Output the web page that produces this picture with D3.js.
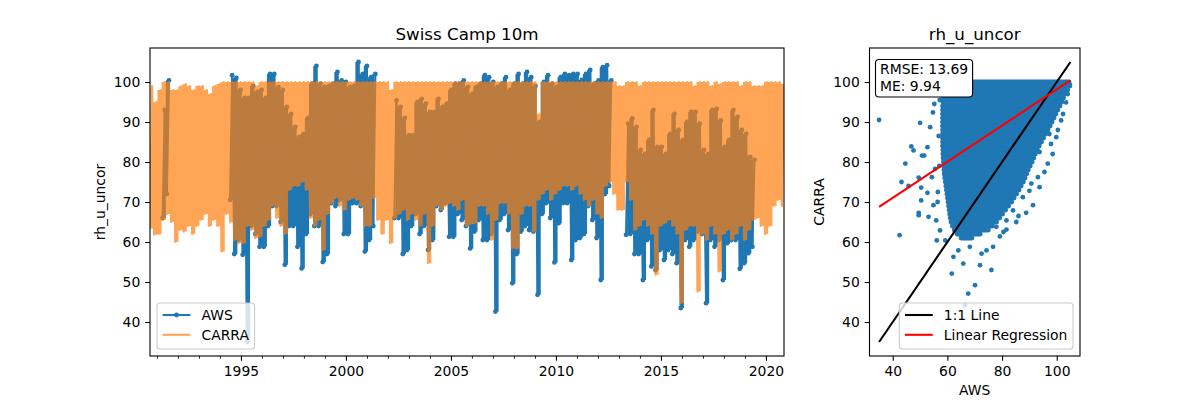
<!DOCTYPE html>
<html>
<head>
<meta charset="utf-8">
<script src="https://cdn.jsdelivr.net/npm/d3@7"></script>
<style>
  body { margin: 0; background: #fff; }
  svg { font-family: "DejaVu Sans", sans-serif; }
</style>
</head>
<body>
<script>
// time series in 0.2-year bins (low / high of each bin)
const tStart = 1990.67, tEnd = 2020.86;

const carraLow = [
  63.4, 61.8, 62, 65.5, 67, 65, 60, 63, 62.6, 64,
  62, 64, 65.5, 67, 64, 65.5, 64, 57.6, 67, 65,
  60.5, 59.7, 59.7, 64, 63, 61, 61.3, 64, 65.5, 69,
  66, 64, 62, 73, 74, 74, 75, 73, 66, 64,
  65.5, 58, 67, 69.7, 71, 69, 68, 70.5, 71, 70.5,
  69, 64, 64, 71, 65.5, 62, 65.5, 59.7, 66, 67,
  68, 65.5, 67, 65.5, 64, 67, 54.7, 64, 69, 68,
  69, 69.7, 69, 68, 70.5, 64, 64.5, 64.7, 69, 69,
  67, 60.5, 65.5, 69.7, 69.7, 67, 58.4, 58.4, 67, 69,
  69, 62.6, 70.5, 72, 73, 70.5, 72, 73, 74, 74,
  73, 74, 72, 70.5, 69, 70.5, 67, 66, 74, 75,
  72, 68, 68, 75, 70.5, 63, 64, 65.5, 64, 62,
  51.8, 64, 64.7, 65.5, 64, 62, 44.7, 63, 64, 64,
  47.6, 62, 60.5, 64, 62, 52.6, 62, 63, 60.5, 62,
  64, 60.5, 63, 65.5, 66, 64, 62, 64, 69, 70.5,
  69
];
const carraHigh = [
  99, 95, 98, 100, 100, 98, 98, 99, 99.5, 99,
  98, 99, 99, 98, 97, 99, 99.5, 100, 100, 100,
  100, 100, 100, 100, 100, 99, 100, 100, 100, 100,
  100, 100, 100, 100, 100, 100, 100, 100, 100, 100,
  100, 100, 100, 100, 100, 100, 100, 100, 100, 100,
  100, 100, 100, 100, 100, 100, 100, 98, 100, 100,
  100, 100, 100, 100, 100, 100, 100, 100, 100, 100,
  100, 100, 100, 100, 100, 100, 100, 100, 100, 100,
  100, 100, 100, 100, 100, 100, 100, 100, 100, 100,
  100, 100, 92, 100, 100, 100, 100, 100, 100, 100,
  100, 100, 100, 100, 100, 100, 100, 100, 100, 100,
  100, 99, 99, 100, 100, 100, 99, 100, 100, 100,
  100, 100, 100, 100, 100, 100, 100, 100, 100, 99,
  100, 100, 100, 99, 100, 99.5, 100, 100, 100, 100,
  99, 100, 100, 99, 99, 99, 100, 100, 100, 100,
  99.5
];
const awsLow = [
  null, null, null, 66, 72, null, null, null, null, null,
  null, null, null, null, null, null, null, null, null, 70.5,
  57, 60.5, 56.8, 35, 64, 62, 58.8, 58.8, 64, 69,
  69, 65, 54.3, 64, 64, 58.8, 53.4, 62, 67, 64,
  64, 55, 57, 69.7, 69, 70.5, 62, 62, 69.7, 69.7,
  69, 57.6, 60.5, 64, null, null, null, null, 66, 66,
  57, 58, 64, 67, 62, 64, 58, 60.5, 69, 68,
  69.7, 61.3, 61.3, 67, 65.5, 64, 58.4, 62.6, 65.5, 60.5,
  60.5, 62, 42.6, 65.5, 67, 63, 49.7, 57, 62.6, 64,
  63, 62.6, 46.8, 67, 69.7, 66, 54.9, 64.7, 69.7, 69.7,
  55.5, 60.5, 61, 62, 69, 65.5, 61, 50.5, 72, 74,
  null, null, null, 61.8, 62, 57, 57, 50.5, 60.5, 53.9,
  53, 58, 55.5, 58, 57, 54.7, 43.5, 60.5, 58.8, 60.5,
  62.6, 62, 44.7, 60.5, 58.8, 60.5, 50.5, 59.7, 60.5, 60.5,
  53.3, 54.7, 57.2, 58.8, null, null, null, null, null, null,
  null
];
const awsHigh = [
  null, null, null, 93, 100.4, null, null, null, null, null,
  null, null, null, null, null, null, null, null, null, 101.7,
  101, 98, 96, 96, 99, 97.5, 98, 96, 102, 102,
  98.7, 98, 93.8, 92, 88.8, 86.3, 87, 91, 99.6, 104,
  99.6, 98.8, 99, 99.6, 102.5, 100.4, 100, 98.8, 99, 105,
  102, 104, 101.2, 102, null, null, null, null, 95.4, 93.8,
  91, 86.7, 86.7, 95, 95.8, 94.6, 92.5, 92.5, 95.8, 93.8,
  94.6, 98, 99.6, 99.6, 100.4, 98.8, 97, 98.8, 99.6, 101.7,
  101.2, 100, 98.8, 99.6, 101.2, 98, 99.6, 102, 99.6, 102.5,
  101.2, 99, 90, 100, 101.7, 99.6, 98.8, 101.2, 102, 101.7,
  102, 102, 100.5, 102, 103, 99.6, 100.4, 103.7, 104.2, 100.4,
  null, null, null, 89.6, 90.9, 88.8, 83, 82, 85.5, 93,
  83.8, 83.8, 82, 87, 92, 88, 85.5, 90, 92.5, 92.5,
  89.6, 83, 82, 93, 93.3, 90.4, 83.8, 85.5, 93, 91.3,
  88, 87, 81.3, 80.5, null, null, null, null, null, null,
  null
];

const majorYears = [1995, 2000, 2005, 2010, 2015, 2020];
const minorYears = [1991, 1992, 1993, 1994, 1996, 1997, 1998, 1999, 2001, 2002, 2003, 2004,
  2006, 2007, 2008, 2009, 2011, 2012, 2013, 2014, 2016, 2017, 2018, 2019];
const valueTicks = [40, 50, 60, 70, 80, 90, 100];
const awsTicks = [40, 60, 80, 100];

// scatter: dense core as rows (CARRA level, AWS min..max) plus single outliers
const cloudCarra = [100, 99, 98, 97, 96, 95, 94, 93, 92, 91, 90, 89, 88, 87, 86, 85, 84, 83, 82, 81,
  80, 79, 78, 77, 76, 75, 74, 73, 72, 71, 70, 69, 68, 67, 66, 65, 64, 63, 62, 61];
const cloudAwsMin = [59, 58.8, 58.6, 58.5, 58.4, 58.3, 58.2, 58.2, 58.2, 58.2, 58.2, 58.2, 58.2, 58.2,
  58.2, 58.2, 58.2, 58.3, 58.3, 58.4, 58.5, 58.6, 58.7, 58.8, 59, 59.2, 59.4, 59.6, 59.8, 60,
  60.2, 60.4, 60.6, 60.8, 61, 61.3, 61.8, 62.5, 63.5, 65];
const cloudAwsMax = [104.5, 104.8, 104, 103, 102.5, 101.9, 101.2, 100.4, 99.7, 99, 98.3, 97.6, 96.8,
  96, 95.2, 94.4, 93.6, 92.9, 92.2, 91.6, 91, 90.3, 89.6, 89, 88.4, 87.8, 87, 86.2, 85.3, 84.4,
  83.5, 82.4, 81.3, 80.2, 79.1, 78, 76.5, 75, 72, 69];
const outAws = [35, 42.5, 43.2, 44.6, 45.8, 46.8, 47.6, 50, 49.5, 50.4, 50.4, 49.5, 49.5, 50.7, 51.5,
  52.7, 53.1, 52.7, 53.7, 54.3, 54.7, 55.2, 55.5, 54.9, 55.9, 56.4, 57.3, 56.1, 59.2, 61.6, 62.2,
  64, 65.8, 67.6, 70.1, 66.4, 68.2, 71.9, 72.5, 76.1, 76.7, 74.3, 79.2, 81.6, 85.2, 88.8, 91.3,
  93.7, 93.1, 96.7, 97.9, 99.8, 100.4, 101.6, 103.4, 104, 104.8, 90.7, 87.6, 84, 81.6, 77.9, 93.7, 97.3,
  56.8, 57, 56.5, 57.2, 90, 95.5, 98.5, 102.3, 86, 80.5];
const outCarra = [90.5, 61.7, 75, 79.6, 74, 83.9, 82.9, 89.8, 76.1, 73.6, 70.4, 67.3, 66.7, 81.6, 81.6,
  72.3, 66.3, 83.7, 88.7, 76.2, 92.4, 94.5, 78.3, 69.2, 65.4, 70, 62.9, 60.4, 60.4, 52.1, 56.3,
  57.9, 54.6, 47.1, 49.2, 44.2, 58.8, 54.2, 57.1, 53, 58.8, 57.9, 61.4, 63.1, 65, 67.3, 69.2,
  73.7, 76.2, 79.6, 84.5, 86.2, 88, 90.4, 94.9, 97, 99.3, 74.6, 71.2, 67.9, 65.4, 63.8, 82.5, 87,
  86.5, 79, 72.5, 95.5, 72.8, 77.5, 82, 92, 66.5, 62.5];

const regSlope = 0.4514, regIntercept = 53.0;
const statLines = ["RMSE: 13.69", "ME: 9.94"];

const blue = "#1f77b4", orange = "#ff7f0e";
const fs = 13.9;

const svg = d3.select("body").append("svg").attr("width", 1200).attr("height", 400);

// shared value range (matplotlib style 5% margin)
const awsVals = awsLow.concat(awsHigh).filter(v => v != null);
const ext = d3.extent(awsVals);
const pad = (ext[1] - ext[0]) * 0.05;
const vDomain = [ext[0] - pad, ext[1] + pad];

function frame(g, b) {
  g.append("rect").attr("x", b.l).attr("y", b.t).attr("width", b.r - b.l).attr("height", b.b - b.t)
    .attr("fill", "none").attr("stroke", "#000").attr("stroke-width", 1.1);
}
function styleAxis(g) {
  g.select(".domain").remove();
  g.selectAll(".tick line").attr("stroke", "#000").attr("stroke-width", 1.1);
  g.selectAll("text").attr("font-size", fs).attr("fill", "#000").attr("font-family", "DejaVu Sans");
}
function legend(g, items, anchorX, alignRight, bottomY) {
  const lg = g.append("g");
  const box = lg.append("rect");
  const texts = items.map(it => lg.append("text").text(it.label).attr("font-size", fs));
  const tw = d3.max(texts, t => t.node().getComputedTextLength());
  const w = 5.6 + 27.8 + 11.1 + tw + 5.6;
  const h = items.length * 19.5 + 7;
  const x0 = alignRight ? anchorX - w : anchorX;
  const y0 = bottomY - h;
  box.attr("x", x0).attr("y", y0).attr("width", w).attr("height", h).attr("rx", 3)
    .attr("fill", "#fff").attr("fill-opacity", 0.8).attr("stroke", "#cccccc").attr("stroke-width", 1.1);
  items.forEach((it, i) => {
    const cy = y0 + 12 + i * 19.8;
    lg.append("line").attr("x1", x0 + 5.6).attr("x2", x0 + 33.4).attr("y1", cy).attr("y2", cy)
      .attr("stroke", it.color).attr("stroke-width", 2.08).attr("stroke-opacity", it.alpha || 1);
    if (it.marker) lg.append("circle").attr("cx", x0 + 19.5).attr("cy", cy).attr("r", 2.4).attr("fill", it.color);
    texts[i].attr("x", x0 + 44.5).attr("y", cy + 5);
  });
}

// ---------- left panel: time series ----------
const bL = { l: 150, r: 784, t: 48, b: 356 };
const x = d3.scaleLinear().domain([tStart, tEnd]).range([bL.l, bL.r]);
const y = d3.scaleLinear().domain(vDomain).range([bL.b, bL.t]);
// each bin is drawn low then high, evenly over the time span
const vt = d3.scaleLinear().domain([0, carraLow.length * 2 - 1]).range([tStart, tEnd]);
const zig = (lo, hi) => lo.flatMap((v, i) => [{ t: vt(2 * i), v: v }, { t: vt(2 * i + 1), v: hi[i] }]);
const bins = (lo, hi) => lo.map((v, i) => ({ t: vt(2 * i + 0.5), lo: v, hi: hi[i] }));

svg.append("clipPath").attr("id", "clipL").append("rect")
  .attr("x", bL.l).attr("y", bL.t).attr("width", bL.r - bL.l).attr("height", bL.b - bL.t);
const gL = svg.append("g");
const plotL = gL.append("g").attr("clip-path", "url(#clipL)");
const line = d3.line().defined(d => d.v != null).x(d => x(d.t)).y(d => y(d.v));
const band = d3.area().curve(d3.curveStep).defined(d => d.lo != null)
  .x(d => x(d.t)).y0(d => y(d.lo)).y1(d => y(d.hi));

function series(g, lo, hi, color, markers) {
  g.append("path").datum(bins(lo, hi)).attr("d", band).attr("fill", color);
  const pts = zig(lo, hi);
  g.append("path").datum(pts).attr("d", line).attr("fill", "none")
    .attr("stroke", color).attr("stroke-width", 2.08).attr("stroke-linejoin", "round");
  if (markers) g.selectAll("circle").data(pts.filter(d => d.v != null)).join("circle")
    .attr("cx", d => x(d.t)).attr("cy", d => y(d.v)).attr("r", 2.4).attr("fill", color);
}
series(plotL.append("g"), awsLow, awsHigh, blue, true);
series(plotL.append("g").attr("opacity", 0.7), carraLow, carraHigh, orange, false);

gL.append("g").attr("transform", `translate(0,${bL.b})`)
  .call(d3.axisBottom(x).tickValues(majorYears).tickFormat(d3.format("d")).tickSize(4.86).tickPadding(4.86))
  .call(styleAxis);
gL.append("g").attr("transform", `translate(0,${bL.b})`)
  .call(d3.axisBottom(x).tickValues(minorYears).tickFormat("").tickSize(2.78))
  .call(g => { g.select(".domain").remove(); g.selectAll(".tick line").attr("stroke", "#000").attr("stroke-width", 0.83); });
gL.append("g").attr("transform", `translate(${bL.l},0)`)
  .call(d3.axisLeft(y).tickValues(valueTicks).tickSize(4.86).tickPadding(4.86))
  .call(styleAxis);
frame(gL, bL);

gL.append("text").attr("x", (bL.l + bL.r) / 2).attr("y", 40).attr("text-anchor", "middle")
  .attr("font-size", 16.7).text("Swiss Camp 10m");
gL.append("text").attr("transform", `translate(105,${(bL.t + bL.b) / 2}) rotate(-90)`)
  .attr("text-anchor", "middle").attr("font-size", fs).text("rh_u_uncor");

legend(gL, [
  { label: "AWS", color: blue, marker: true },
  { label: "CARRA", color: orange, alpha: 0.7 }
], bL.l + 7, false, bL.b - 7);

// ---------- right panel: scatter ----------
const bR = { l: 869.5, r: 1080, t: 48, b: 356 };
const xs = d3.scaleLinear().domain(vDomain).range([bR.l, bR.r]);
const ys = d3.scaleLinear().domain(vDomain).range([bR.b, bR.t]);
svg.append("clipPath").attr("id", "clipR").append("rect")
  .attr("x", bR.l).attr("y", bR.t).attr("width", bR.r - bR.l).attr("height", bR.b - bR.t);
const gR = svg.append("g");
const plotR = gR.append("g").attr("clip-path", "url(#clipR)");

plotR.selectAll("line.cloud").data(cloudCarra).join("line").attr("class", "cloud")
  .attr("x1", (d, i) => xs(cloudAwsMin[i])).attr("x2", (d, i) => xs(cloudAwsMax[i]))
  .attr("y1", d => ys(d)).attr("y2", d => ys(d))
  .attr("stroke", blue).attr("stroke-width", 4.8).attr("stroke-linecap", "round");
plotR.selectAll("circle").data(outAws).join("circle")
  .attr("cx", d => xs(d)).attr("cy", (d, i) => ys(outCarra[i])).attr("r", 2.4).attr("fill", blue);

plotR.append("line").attr("x1", xs(ext[0])).attr("y1", ys(ext[0])).attr("x2", xs(ext[1])).attr("y2", ys(ext[1]))
  .attr("stroke", "#000").attr("stroke-width", 2.08);
plotR.append("line")
  .attr("x1", xs(ext[0])).attr("y1", ys(regIntercept + regSlope * ext[0]))
  .attr("x2", xs(ext[1])).attr("y2", ys(regIntercept + regSlope * ext[1]))
  .attr("stroke", "red").attr("stroke-width", 2.08);

gR.append("g").attr("transform", `translate(0,${bR.b})`)
  .call(d3.axisBottom(xs).tickValues(awsTicks).tickSize(4.86).tickPadding(4.86))
  .call(styleAxis);
gR.append("g").attr("transform", `translate(${bR.l},0)`)
  .call(d3.axisLeft(ys).tickValues(valueTicks).tickSize(4.86).tickPadding(4.86))
  .call(styleAxis);
frame(gR, bR);

gR.append("text").attr("x", (bR.l + bR.r) / 2).attr("y", 40).attr("text-anchor", "middle")
  .attr("font-size", 16.7).text("rh_u_uncor");
gR.append("text").attr("x", (bR.l + bR.r) / 2).attr("y", 395).attr("text-anchor", "middle")
  .attr("font-size", fs).text("AWS");
gR.append("text").attr("transform", `translate(824,${(bR.t + bR.b) / 2}) rotate(-90)`)
  .attr("text-anchor", "middle").attr("font-size", fs).text("CARRA");

// stats box
const sb = gR.append("g");
const sbRect = sb.append("rect");
const st = sb.append("text").attr("font-size", fs);
statLines.forEach((s, i) => st.append("tspan").attr("x", 880).attr("y", 74 + i * 16.7).text(s));
const sw = d3.max(st.selectAll("tspan").nodes(), n => n.getComputedTextLength());
sbRect.attr("x", 875.5).attr("y", 59.5).attr("width", sw + 9).attr("height", 37.5).attr("rx", 3.5)
  .attr("fill", "#fff").attr("stroke", "#000").attr("stroke-width", 1.1);

legend(gR, [
  { label: "1:1 Line", color: "#000" },
  { label: "Linear Regression", color: "red" }
], bR.r - 7, true, bR.b - 7);
</script>
</body>
</html>
